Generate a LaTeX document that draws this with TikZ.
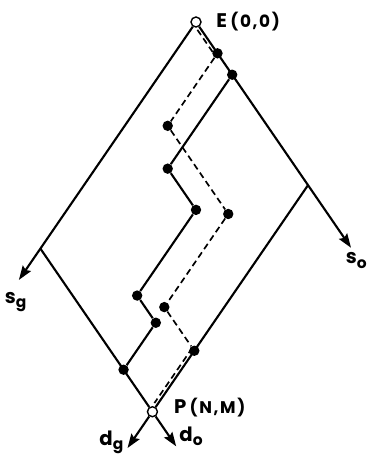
\documentclass[tikz,border=0pt]{standalone}
\usepackage{fontspec}
\setmainfont{Poppins}
\usetikzlibrary{arrows.meta,positioning}
\newcommand\lblsub[1]{\raisebox{-0.4ex}{\fontsize{11}{12}\selectfont #1}}

\begin{document}
\begin{tikzpicture}[
  x={(0.01415cm,-0.0206cm)},y={(-0.01415cm,-0.0206cm)},
  solid path/.style={line width=1.5pt},
  arr/.style={line width=1.5pt,-{Stealth[length=10pt,width=7pt,inset=1.5pt]}},
  dashpath/.style={line width=1.2pt,dash pattern=on 4.5pt off 2.8pt},
  dot/.style={circle,fill=black,inner sep=0pt,minimum size=0.26cm},
  opendot/.style={circle,draw,fill=white,line width=1pt,inner sep=0pt,minimum size=0.25cm},
  lbl/.style={inner sep=0pt,font=\fontsize{14}{16}\selectfont\bfseries}]
% x runs along s_o, y along s_g, origin at E
\useasboundingbox (-4.9cm,0.55cm) rectangle (4.275cm,-10.85cm);
\coordinate (R) at (198,0);
\coordinate (L) at (0,275);
\coordinate (sotip) at (274,0);
\coordinate (sgtip) at (0,313);
\coordinate (dgtip) at (198,319);
\coordinate (dotip) at (240,275);
\node[dot] (D1) at (38,0) {};
\node[dot] (D2) at (38,88) {};
\node[dot] (D3) at (145,88) {};
\node[dot] (D4) at (145,201) {};
\node[dot] (S1) at (64,0) {};
\node[dot] (S2) at (64,114) {};
\node[dot] (S3) at (114,114) {};
\node[dot] (S4) at (114,218) {};
\node[dot] (S5) at (147,218) {};
\node[dot] (S6) at (198,201) {};
\node[dot] (S7) at (147,275) {};
\node[opendot] (E) at (0,0) {};
\node[opendot] (P) at (198,275) {};
\draw[arr] (E) -- (sotip);
\draw[arr] (E) -- (sgtip);
\draw[solid path] (L) -- (P);
\draw[solid path] (R) -- (P);
\draw[arr] (P) -- (dgtip);
\draw[arr] (P) -- (dotip);
\draw[solid path] (S1) -- (S2) -- (S3) -- (S4) -- (S5) -- (S7);
\draw[dashpath] (D1) -- (D2) -- (D3) -- (D4) -- (S6);
\draw[dashpath] ([shift={(6,3.5)}]E.center) -- ([shift={(0,3.5)}]D1.center);
\draw[dashpath] ([shift={(-3.5,0)}]S6.center) -- ([shift={(-3.5,-7)}]P.center);
\node[lbl,right=0.36cm of E] (Elbl) {E\,{\addfontfeature{LetterSpace=10}\fontsize{12}{14}\selectfont(0,0)}};
\node[lbl,right=0.39cm of P,yshift=0.1cm] (Plbl) {P\,{\addfontfeature{LetterSpace=10}\fontsize{12}{14}\selectfont(N,M)}};
\node[lbl,anchor=base] (sglbl) at ([shift={(-0.08cm,-0.58cm)}]sgtip) {s\lblsub{g}};
\node[lbl,anchor=base east] (solbl) at ([shift={(0.4cm,-0.4cm)}]sotip) {s\lblsub{o}};
\node[lbl,anchor=base east] (dglbl) at ([shift={(-0.1cm,0.06cm)}]dgtip) {d\lblsub{g}};
\node[lbl,anchor=base west] (dolbl) at ([shift={(0.075cm,0.12cm)}]dotip) {d\lblsub{o}};
\end{tikzpicture}
\end{document}
